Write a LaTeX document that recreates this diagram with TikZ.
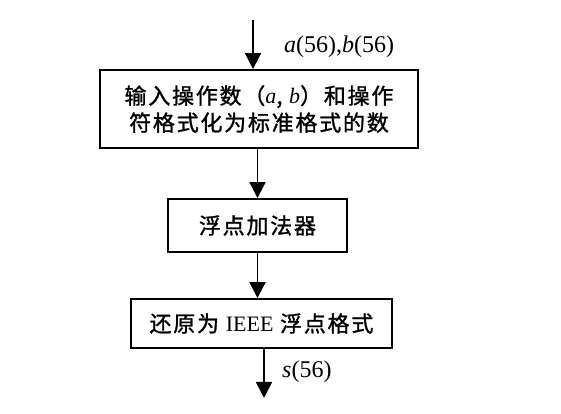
\documentclass[tikz,border=0pt]{standalone}
\usepackage{fontspec}
\setmainfont{Liberation Serif}
\newfontfamily\cjk[LetterSpace=8,FakeBold=1.2]{Noto Sans CJK SC}
\usetikzlibrary{arrows.meta}
\begin{document}
\begin{tikzpicture}[x=1pt,y=1pt,
  boxstyle/.style={draw,line width=1.8pt,inner sep=0pt,align=center,font=\fontsize{22}{27}\selectfont\cjk},
  arr/.style={line width=1.8pt,-{Triangle[width=16pt,length=16pt]}},
  lbl/.style={font=\fontsize{24}{26}\selectfont,anchor=west,inner sep=0pt}]
\useasboundingbox (0,0) rectangle (561,414);
\node[boxstyle,minimum width=318pt,minimum height=78pt] (b1) at (259,305)
  {输入操作数（{\rmfamily\itshape a}, {\rmfamily\itshape b}）和操作\\符格式化为标准格式的数};
\node[boxstyle,minimum width=179pt,minimum height=53pt] (b2) at (257.5,188.5) {浮点加法器};
\node[boxstyle,minimum width=261pt,minimum height=49pt] (b3) at (261.5,90.5) {还原为 {\rmfamily IEEE} 浮点格式};
\coordinate (in) at (253,394);
\coordinate (out) at (264,16);
\draw[arr] (in) -- (in |- b1.north);
\draw[arr] (b1.south -| b2.north) -- (b2.north);
\draw[arr] (b2.south) -- (b2.south |- b3.north);
\draw[arr] (out |- b3.south) -- (out);
\node[lbl] (la) at (284,367) {\textit{a}(56),\textit{b}(56)};
\node[lbl] (ls) at (282,42) {\textit{s}(56)};
\end{tikzpicture}
\end{document}
